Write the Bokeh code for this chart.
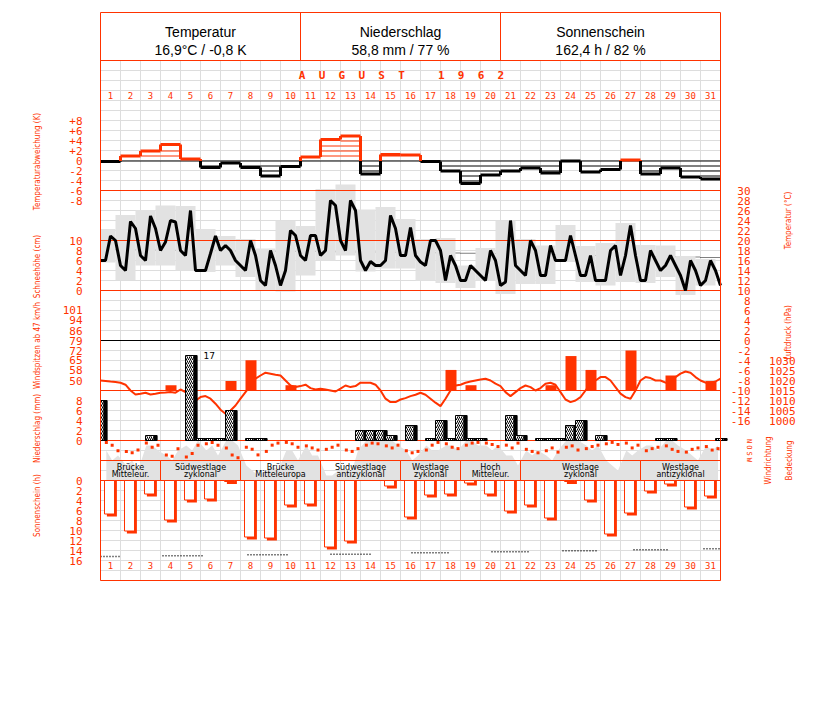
import numpy as np
from bokeh.plotting import figure
from bokeh.models import Range1d
from bokeh.core.properties import value
from bokeh.embed import file_html
from bokeh.resources import INLINE

RED = "#ff3300"
GRID = "#dddddd"
GREY = "#e2e2e2"

# ---------------- data ----------------
days = list(range(1, 32))
temp_anom = [-0.1, 1.0, 2.0, 3.3, 0.4, -1.3, -0.4, -1.3, -3.0, -1.1, 0.8, 4.3, 5.0, -2.6, 1.3, 1.2,
             -0.1, -2.0, -4.5, -2.8, -2.0, -1.4, -2.4, 0.0, -2.2, -1.7, 0.2, -2.6, -1.4, -3.2, -3.6]
# air temperature every 6 h (4 per day), 1 Aug 00h .. 1 Sep 00h
temp_6h = [16, 16, 20.9, 20, 15, 14, 23.8, 22.4, 17, 16, 24.9, 22.4, 18, 19.7, 24, 23.7,
           18, 17, 26, 14, 14, 14, 17.4, 20.9, 18, 19, 18, 16, 15, 14, 20, 17,
           12, 11, 18, 15, 11, 14, 22, 21, 17, 16, 21, 21, 17, 18, 28, 27,
           20, 18, 28, 26, 16, 14, 15.8, 15, 15, 16, 25, 22.4, 17, 17, 22.6, 17,
           15.7, 15, 20, 20, 18, 12, 17, 15, 12, 12, 15, 14, 13, 12, 18, 16,
           11, 11.7, 24, 15, 14, 13, 20, 18, 13, 13, 19, 16, 16, 16, 21, 17,
           13, 13, 17, 12, 12, 12, 18, 19, 13, 17, 23, 17, 12, 12, 18, 16,
           14, 15, 17, 15, 13, 10, 16, 14, 11, 12, 16, 14, 11]
temp_max = [22.3, 25.1, 26.1, 27.0, 26.9, 22.3, 20.9, 20.3, 18.4, 24.0, 22.9, 30.3, 31.2, 26.2, 26.7, 24.3,
            20.3, 20.5, 15.0, 18.5, 24.0, 20.3, 19.0, 23.1, 18.9, 19.5, 23.5, 19.1, 19.0, 16.9, 16.3]
temp_min = [15.6, 12.1, 15.0, 15.0, 14.0, 13.7, 15.0, 12.7, 10.0, 9.8, 13.0, 16.0, 17.0, 13.8, 14.4, 14.4,
            12.0, 11.5, 10.5, 12.0, 9.3, 11.3, 11.3, 15.7, 11.7, 11.0, 11.7, 11.5, 12.7, 9.1, 11.0]
temp_normal = [18.2, 18.15, 18.1, 18.05, 18.0, 17.95, 17.9, 17.9, 17.85, 17.8, 17.8, 17.75, 17.7, 17.7, 17.65, 17.6,
               17.55, 17.5, 17.45, 17.4, 17.35, 17.3, 17.2, 17.1, 17.0, 16.9, 16.85, 16.8, 16.75, 16.7, 16.6]
# air pressure every 6 h (hPa)
press_6h = [1020, 1019.8, 1019.5, 1019.3, 1018.9, 1017.9, 1015, 1013, 1013.4, 1013.9, 1013, 1013.4, 1013.9, 1014, 1014.2, 1013.9,
            1015.5, 1014.2, 1011.7, 1009.9, 1011.7, 1012.2, 1010.9, 1008.4, 1005.4, 1003.4, 1005, 1007.5, 1010.9, 1014.2, 1017.5, 1020.9,
            1022.5, 1023.9, 1023.4, 1022.9, 1022.5, 1020, 1017.5, 1016.7, 1017.2, 1017.9, 1016.2, 1015.5, 1015.9, 1015.5, 1015, 1014.5,
            1015.9, 1017.5, 1016.7, 1017.2, 1018.9, 1018.9, 1018.9, 1017.9, 1015, 1010.9, 1009.2, 1009.2, 1010.5, 1011.2, 1012.2,
            1012.9, 1013.9, 1012.9, 1010.9, 1008.9, 1007.2, 1010.9, 1015, 1017.5, 1017.9, 1018.9, 1019.5, 1020, 1020.5, 1020.9, 1020,
            1018.4, 1017.2, 1014.2, 1012.2, 1014.2, 1016.2, 1017.5, 1016.7, 1015, 1016.2, 1018.4, 1018.9, 1017.9, 1014.2, 1010.5, 1009.2,
            1010, 1011.7, 1015, 1018.4, 1020, 1021.7, 1021.7, 1020, 1016.7, 1013.4, 1011.7, 1010.9, 1015, 1020, 1021.7, 1021.2,
            1020, 1020, 1018.9, 1019.5, 1021.7, 1023.4, 1024.5, 1023.9, 1021.7, 1020, 1018.9, 1018.9, 1019.5, 1020.9]
gust_days = [4, 7, 8, 10, 18, 19, 23, 24, 25, 27, 29, 31]
gust_kmh = [47, 50, 65, 47, 58, 47, 47, 68, 58, 72, 54, 50]
# precipitation per 12 h period (07-19 h / 19-07 h), first period starts 31 Jul 19 h
precip_12h = [8, 0, 0, 0, 0, 1, 0, 0, 0, 17, 0.4, 0.4, 0.4, 6, 0, 0.4, 0.4, 0, 0, 0, 0, 0, 0, 0, 0, 0,
              2, 2, 2, 1, 0, 3, 0, 0.4, 4, 0.4, 5, 0.4, 0.4, 0, 0, 5, 1, 0, 0.4, 0.4, 0.4, 3, 4, 0, 1,
              0, 0, 0, 0, 0, 0.4, 0.4, 0, 0, 0, 0, 0.4]
# observations at 7, 14, 21 h: cloud cover (octas) and wind direction (degrees)
cloud_obs = [6, 4, 5, 3, 4, 2, 7, 7, 6, 5, 4, 6, 7, 6, 8, 6, 7, 5, 8, 8, 7, 3, 2, 1,
             2, 3, 2, 6, 6, 4, 7, 5, 5, 1, 1, 2, 2, 2, 6, 8, 8, 8, 8, 8, 7, 6, 4, 5,
             7, 6, 6, 7, 7, 6, 8, 8, 7, 7, 6, 7, 5, 5, 3, 6, 5, 6, 5, 4, 6, 8, 8, 8,
             7, 6, 7, 4, 3, 2, 6, 5, 6, 7, 7, 6, 8, 8, 7, 6, 5, 4, 7, 6, 7]
wind_dir = [20, 60, 140, 150, 170, 130, 30, 90, 60, 200, 220, 110, 230, 180, 60, 40, 20, 60,
            100, 200, 240, 90, 120, 200, 150, 60, 30, 20, 40, 90, 70, 100, 130, 120, 90, 60,
            130, 150, 110, 60, 30, 40, 70, 100, 60, 140, 170, 150, 130, 60, 20, 40, 90, 110,
            60, 30, 20, 30, 50, 80, 60, 100, 30, 120, 150, 170, 140, 100, 160, 90, 70, 130,
            110, 80, 60, 40, 20, 50, 30, 100, 60, 140, 110, 90, 70, 120, 150, 160, 120, 100,
            80, 130, 110]
obs_hours = [7, 14, 21]
sunshine = [6.7, 10.1, 2.7, 7.9, 3.9, 3.7, 0.2, 11.3, 11.5, 4.9, 4.7, 13.3, 12.1, 0, 1.1, 7.3,
            2.9, 2.7, 0.5, 2.7, 6.1, 4.9, 7.5, 0.2, 3.9, 10.7, 6.5, 2.1, 0.7, 5.3, 3.1]
daylen_from = [0.0, 3.1, 7.35, 11.5, 15.55, 19.55, 23.1, 26.65, 30.15]
daylen_to = [1.0, 5.2, 9.4, 13.5, 17.5, 21.4, 24.9, 28.4, 31.0]
daylen_h = [15.2, 15.06, 14.86, 14.74, 14.46, 14.26, 14.06, 13.86, 13.66]
wl_from = [1, 4, 8, 12, 16, 19, 22, 28]
wl_to = [3, 7, 11, 15, 18, 21, 27, 31]
wl_line1 = ["Brücke", "Südwestlage", "Brücke", "Südwestlage", "Westlage", "Hoch", "Westlage", "Westlage"]
wl_line2 = ["Mitteleur.", "zyklonal", "Mitteleuropa", "antizyklonal", "zyklonal", "Mitteleur.", "zyklonal", "antizyklonal"]

anom_ticks = [8, 6, 4, 2, 0, -2, -4, -6, -8]
anom_labels = ["+8", "+6", "+4", "+2", "0", "-2", "-4", "-6", "-8"]
snow_ticks = [10, 8, 6, 4, 2, 0]
wind_ticks = [101, 94, 86, 79, 72, 65, 58, 50]
precip_ticks = [8, 6, 4, 2, 0]
sun_ticks = [0, 2, 4, 6, 8, 10, 12, 14, 16]
temp_ticks = list(range(30, -17, -2))
press_ticks = [1030, 1025, 1020, 1015, 1010, 1005, 1000]
dir_ticks = [0, 90, 180, 270]
dir_labels = ["N", "O", "S", "W"]

# ---------------- figure ----------------
W, H = 820, 690
TOP = 0


def rng(zero_px, ppu, down=False):
    top, bot = TOP, TOP + H
    if down:
        return Range1d(start=(bot - zero_px) / ppu, end=(top - zero_px) / ppu)
    return Range1d(start=(zero_px - bot) / ppu, end=(zero_px - top) / ppu)


p = figure(width=W, height=H, output_backend="svg", toolbar_location=None,
           x_range=Range1d((TOP - 100) / 20, (TOP + W - 100) / 20), y_range=rng(60, 10, down=True),
           min_border=0, outline_line_color=None)
p.axis.visible = False
p.grid.visible = False
p.extra_y_ranges = {
    "anom": rng(160.5, 5), "temp": rng(340, 5), "snow": rng(290, 5),
    "wind": rng(450, 5 / 3.6), "press": rng(390 + 1015 * 2, 2),
    "precip": rng(440, 5), "cloud": rng(480, 5), "sun": rng(480, 5, down=True),
    "wdir": rng(440.5, 25 / 360, down=True),
}

d = np.array(days, dtype=float)
t6 = np.arange(len(temp_6h)) / 4.0
t_obs = np.array([di - 1 + h / 24 for di in days for h in obs_hours])
NROWS = 52

# grid
p.multi_line(xs=[[i, i] for i in range(32)], ys=[[0, NROWS]] * 32, line_color=GRID, line_width=1)
p.multi_line(xs=[[0, 31]] * (NROWS + 1), ys=[[r, r] for r in range(NROWS + 1)], line_color=GRID, line_width=1)

# cloud cover (grey area)
p.varea(x=t_obs, y1=0, y2=cloud_obs, fill_color=GREY, y_range_name="cloud")

# temperature: normal (dotted), min/max boxes, curve
p.segment(x0=d - 1, x1=d, y0=temp_normal, y1=temp_normal, line_color="black", line_dash="1 1",
          line_width=1, y_range_name="temp")
p.quad(left=np.maximum(d - 1.25, 0), right=d - 0.25, bottom=temp_min, top=temp_max,
       fill_color=GREY, line_color=None, y_range_name="temp")

# red / black reference lines
p.segment(x0=[0, 0, 0], x1=[31, 31, 31], y0=[30, 20, 10], y1=[30, 20, 10], line_color=RED,
          line_width=1, y_range_name="temp")
p.segment(x0=[0], x1=[31], y0=[1015], y1=[1015], line_color=RED, line_width=1, y_range_name="press")
p.segment(x0=[0], x1=[31], y0=[0], y1=[0], line_color=RED, line_width=1, y_range_name="precip")
p.segment(x0=[0], x1=[31], y0=[79.2], y1=[79.2], line_color="black", line_width=1, y_range_name="wind")
p.segment(x0=[0], x1=[31], y0=[0], y1=[0], line_color="black", line_width=1, y_range_name="anom")

# temperature anomaly bars
hx0, hx1, hy, hc = [], [], [], []
for di, v in zip(days, temp_anom):
    n = int(np.floor(abs(v) + 1e-9))
    for k in range(1, n + 1):
        if abs(abs(v) - k) < 0.3:
            continue
        hx0.append(di - 1); hx1.append(di); hy.append(float(np.sign(v) * k))
        hc.append(RED if v > 0 else "black")
p.segment(x0=hx0, x1=hx1, y0=hy, y1=hy, line_color=hc, line_width=1, y_range_name="anom")
an = np.array(temp_anom)
p.segment(x0=d - 1, x1=d, y0=an, y1=an, line_color=[RED if v > 0 else "black" for v in an],
          line_width=3, y_range_name="anom")
cx, cy0, cy1, cc = [], [], [], []
for i in range(len(an) - 1):
    a, b = an[i], an[i + 1]
    lo, hi = min(a, b), max(a, b)
    if hi > 0:
        cx.append(i + 1); cy0.append(max(lo, 0)); cy1.append(hi); cc.append(RED)
    if lo < 0:
        cx.append(i + 1); cy0.append(lo); cy1.append(min(hi, 0)); cc.append("black")
p.segment(x0=cx, x1=cx, y0=cy0, y1=cy1, line_color=cc, line_width=3, y_range_name="anom")

p.line(x=t6, y=temp_6h, line_color="black", line_width=3, y_range_name="temp")

# gusts
gd = np.array(gust_days, dtype=float)
p.quad(left=gd - 0.75, right=gd - 0.2, bottom=12 * 3.6, top=gust_kmh, fill_color=RED,
       line_color=None, y_range_name="wind")

# pressure
p.line(x=np.arange(len(press_6h)) / 4.0, y=press_6h, line_color=RED, line_width=2, y_range_name="press")

# precipitation (12 h)
pr = np.array(precip_12h, dtype=float)
ps = -0.25 + 0.5 * np.arange(len(pr))
m = pr > 0
p.quad(left=np.maximum(ps[m] + 0.17, 0), right=ps[m] + 0.58, bottom=0, top=pr[m], fill_color="black",
       line_color="black", y_range_name="precip")
p.quad(left=np.maximum(ps[m], 0), right=ps[m] + 0.42, bottom=0, top=pr[m], fill_color="white",
       hatch_pattern="right_diagonal_line", hatch_color="black", hatch_scale=4, hatch_weight=1,
       line_color="black", line_width=1, y_range_name="precip")
big = pr > 8
p.text(x=ps[big] + 0.9, y=pr[big], text=[f"{v:.0f}" for v in pr[big]], text_font=value("DejaVu Sans"),
       text_font_size="9px", text_color="black", text_baseline="middle", y_range_name="precip")

# wind direction squares
p.scatter(x=t_obs, y=wind_dir, marker="square", size=3, fill_color=RED, line_color=None, y_range_name="wdir")

# weather types
wf = np.array(wl_from, dtype=float) - 1
wt = np.array(wl_to, dtype=float)
p.quad(left=wf, right=wt, top=40, bottom=42, fill_alpha=0, line_color=RED, line_width=1)
p.text(x=(wf + wt) / 2, y=[40.65] * len(wf), text=wl_line1, text_font=value("DejaVu Sans"), text_font_size="8px",
       text_align="center", text_baseline="middle", text_color="black")
p.text(x=(wf + wt) / 2, y=[41.35] * len(wf), text=wl_line2, text_font=value("DejaVu Sans"), text_font_size="8px",
       text_align="center", text_baseline="middle", text_color="black")

# sunshine
sn = np.array(sunshine)
ms = sn > 0
p.quad(left=d[ms] - 0.8 + 0.12, right=d[ms] - 0.3 + 0.12, top=0, bottom=sn[ms] + 0.5, fill_color=RED,
       line_color=None, y_range_name="sun")
p.quad(left=d[ms] - 0.8, right=d[ms] - 0.3, top=0, bottom=sn[ms], fill_color="white", line_color=RED,
       line_width=1, y_range_name="sun")
p.segment(x0=daylen_from, x1=daylen_to, y0=daylen_h, y1=daylen_h, line_color="black", line_dash="1 2",
          line_width=1.5, y_range_name="sun")

# frame and header
p.segment(x0=[0, 10, 20, 31], x1=[0, 10, 20, 31], y0=[-4.8, -4.8, -4.8, -4.8], y1=[52, 0, 0, 52],
          line_color=RED, line_width=1)
p.segment(x0=[0, 0, 0], x1=[31, 31, 31], y0=[-4.8, 0, 52], y1=[-4.8, 0, 52], line_color=RED, line_width=1)
p.text(x=[5, 15, 25], y=[-2.85] * 3, text=["Temperatur", "Niederschlag", "Sonnenschein"],
       text_font=value("Liberation Sans"), text_font_size="14px", text_align="center", text_baseline="middle")
p.text(x=[5, 15, 25], y=[-1.1] * 3, text=["16,9°C / -0,8 K", "58,8 mm / 77 %", "162,4 h / 82 %"],
       text_font=value("Liberation Sans"), text_font_size="14px", text_align="center", text_baseline="middle")
NB = "\u00a0"
month_title = (NB * 2).join("AUGUST") + NB * 5 + (NB * 2).join("1962")
p.text(x=[15.05], y=[1.5], text=[month_title], text_font=value("DejaVu Sans Mono"),
       text_font_size="11px", text_font_style="bold", text_color=RED, text_align="center", text_baseline="middle")
p.text(x=d - 0.5, y=[3.5] * 31, text=[str(i) for i in days], text_font=value("DejaVu Sans Mono"),
       text_font_size="9px", text_color=RED, text_align="center", text_baseline="middle")
p.text(x=d - 0.5, y=[50.5] * 31, text=[str(i) for i in days], text_font=value("DejaVu Sans Mono"),
       text_font_size="9px", text_color=RED, text_align="center", text_baseline="middle")

# tick labels
TK = dict(text_font=value("DejaVu Sans Mono"), text_font_size="11px", text_color=RED, text_baseline="middle")
LX = (82 - 100) / 20
p.text(x=[LX] * len(anom_ticks), y=anom_ticks, text=anom_labels, text_align="right", y_range_name="anom", **TK)
p.text(x=[LX] * len(snow_ticks), y=snow_ticks, text=[str(v) for v in snow_ticks], text_align="right",
       y_range_name="snow", **TK)
p.text(x=[LX] * len(wind_ticks), y=[v for v in wind_ticks], text=[str(v) for v in wind_ticks], text_align="right",
       y_range_name="wind", **TK)
p.text(x=[LX] * len(precip_ticks), y=precip_ticks, text=[str(v) for v in precip_ticks], text_align="right",
       y_range_name="precip", **TK)
p.text(x=[LX] * len(sun_ticks), y=sun_ticks, text=[str(v) for v in sun_ticks], text_align="right",
       y_range_name="sun", **TK)
RX = (750 - 100) / 20
p.text(x=[RX] * len(temp_ticks), y=temp_ticks, text=[str(v) for v in temp_ticks], text_align="right",
       y_range_name="temp", **TK)
PX = (795 - 100) / 20
p.text(x=[PX] * len(press_ticks), y=press_ticks, text=[str(v) for v in press_ticks], text_align="right",
       y_range_name="press", **TK)
p.text(x=[(748 - 100) / 20] * 4, y=dir_ticks, text=dir_labels, text_font=value("DejaVu Sans Mono"),
       text_font_size="7px", text_color=RED, text_align="center", text_baseline="middle", angle=-np.pi / 2,
       y_range_name="wdir")

# axis titles (rotated)
TT = dict(text_font=value("Liberation Sans Narrow, DejaVu Sans Condensed, Liberation Sans"), text_font_size="8px",
          text_color=RED, text_align="center", text_baseline="middle", angle=np.pi / 2)
TXL = (37 - 100) / 20
p.text(x=[TXL] * 5, y=[(161 - 60) / 10, (266 - 60) / 10, (345 - 60) / 10, (428 - 60) / 10, (505 - 60) / 10],
       text=["Temperaturabweichung (K)", "Schneehöhe (cm)", "Windspitzen ab 47 km/h", "Niederschlag (mm)",
             "Sonnenschein (h)"], **TT)
p.text(x=[(788 - 100) / 20, (788 - 100) / 20, (768 - 100) / 20, (789 - 100) / 20],
       y=[(220 - 60) / 10, (332 - 60) / 10, (460 - 60) / 10, (460 - 60) / 10],
       text=["Temperatur (°C)", "Luftdruck (hPa)", "Windrichtung", "Bedeckung"], **TT)

open("out.html", "w").write(file_html(p, INLINE))
